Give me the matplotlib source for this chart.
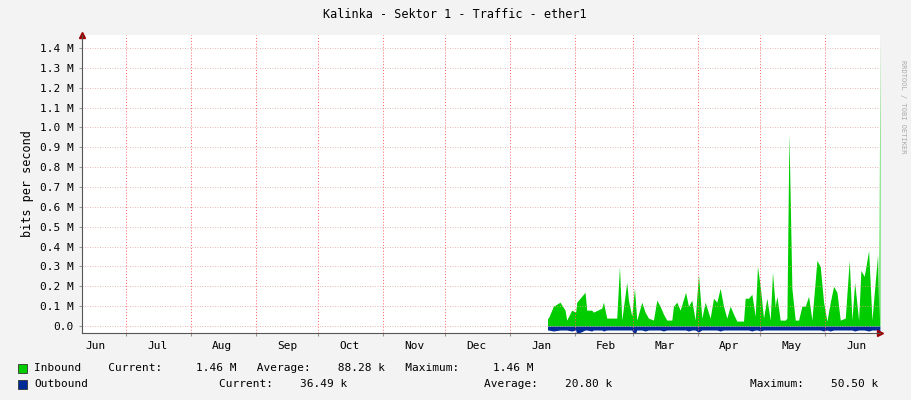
import matplotlib
matplotlib.use("Agg")
import matplotlib.pyplot as plt
import matplotlib.dates as mdates
import numpy as np
import datetime as dt

title = "Kalinka - Sektor 1 - Traffic - ether1"
ylabel = "bits per second"
# days since 2021-01-01
days = [18.0,18.4,20.8,24,26.4,27.2,29.6,31.5,32,36,36.8,39.2,40,44,44.8,46.4,51.2,52.5,53.6,56,56.8,58.4,59.7,60.8,
        63.2,64.8,66.4,68.8,70.4,72,73.6,75.2,77.6,78.4,80,81.6,84.2,85.6,87.2,88.8,90.4,92,93.6,96,97.6,99.2,100.8,
        102.4,104,105.6,107.2,108.8,112,112.8,114.4,116,117.6,118.7,120,121.6,123.2,124.8,125.9,127.2,128,129.6,132,
        132.8,133.8,135.2,136.8,138.4,140,141.6,143.2,144.8,147.2,148.8,150.4,152,153.6,155.2,156.8,158.4,160.8,162.7,
        164,165.3,167.2,168.3,169.9,172,173.6,174.9,176.3,176.9,177.4]
inbound = [0.04,0.04,0.10,0.12,0.08,0.03,0.08,0.07,0.12,0.17,0.08,0.08,0.07,0.09,0.12,0.04,0.04,0.30,0.03,0.22,0.13,
           0.05,0.19,0.03,0.12,0.07,0.04,0.03,0.13,0.10,0.06,0.03,0.03,0.10,0.12,0.08,0.17,0.10,0.13,0.03,0.26,0.04,
           0.12,0.04,0.14,0.12,0.19,0.10,0.04,0.10,0.06,0.025,0.025,0.14,0.14,0.16,0.05,0.30,0.20,0.04,0.14,0.03,0.27,
           0.10,0.15,0.03,0.03,0.04,0.97,0.19,0.03,0.03,0.10,0.10,0.15,0.03,0.33,0.30,0.12,0.025,0.12,0.20,0.17,0.03,
           0.04,0.33,0.03,0.22,0.03,0.28,0.25,0.38,0.03,0.19,0.36,0.03,1.46]
outbound = [0.02,0.02,0.025,0.02,0.02,0.02,0.025,0.02,0.04,0.02,0.02,0.025,0.02,0.02,0.025,0.02,0.02,0.02,0.02,0.02,
            0.02,0.02,0.05,0.02,0.02,0.025,0.02,0.02,0.02,0.02,0.025,0.02,0.02,0.02,0.02,0.02,0.02,0.025,0.02,0.02,
            0.03,0.02,0.02,0.02,0.02,0.02,0.025,0.02,0.02,0.02,0.02,0.02,0.02,0.02,0.02,0.025,0.02,0.02,0.025,0.02,0.02,
            0.02,0.02,0.02,0.02,0.02,0.02,0.02,0.02,0.02,0.02,0.02,0.02,0.02,0.02,0.02,0.02,0.02,0.025,0.02,0.025,0.02,
            0.02,0.02,0.02,0.02,0.02,0.025,0.02,0.02,0.02,0.025,0.02,0.02,0.02,0.03,0.036]
yticks = [0.0,0.1,0.2,0.3,0.4,0.5,0.6,0.7,0.8,0.9,1.0,1.1,1.2,1.3,1.4]
legend_rows = [
    ("#00cc00", [(34, "Inbound    Current:     1.46 M   Average:    88.28 k   Maximum:     1.46 M")]),
    ("#002a97", [(34, "Outbound"), (219, "Current:    36.49 k"), (484, "Average:    20.80 k"), (750, "Maximum:    50.50 k")]),
]

base = dt.datetime(2021, 1, 1)
x = [base + dt.timedelta(days=d) for d in days]
W, H = 911, 400
fig = plt.figure(figsize=(W/100, H/100), dpi=100, facecolor="#f3f3f3")
ax = fig.add_axes([82/W, 1-333/H, (880-82)/W, (333-35)/H], facecolor="white")
mono = dict(family="DejaVu Sans Mono", size=8)

ax.fill_between(x, 0, inbound, color="#00cc00", lw=0)
ax.fill_between(x, 0, [-v for v in outbound], color="#002a97", lw=0)

xmin = base + dt.timedelta(days=(82-510)/2.085)
xmax = base + dt.timedelta(days=(880-510)/2.085)
ax.set_xlim(xmin, xmax)
ax.set_ylim(-0.035, 1.465)
ax.set_yticks(yticks)
ax.set_yticklabels(["0.0"] + ["%.1f M" % v for v in yticks[1:]], **mono)
ax.xaxis.set_major_locator(mdates.MonthLocator())
ax.xaxis.set_major_formatter(plt.NullFormatter())
ax.xaxis.set_minor_locator(mdates.MonthLocator(bymonthday=16))
ax.xaxis.set_minor_formatter(mdates.DateFormatter("%b"))
ax.tick_params(axis="x", which="minor", length=0, pad=6, labelsize=8, labelfontfamily="DejaVu Sans Mono")
ax.tick_params(axis="x", which="major", length=2, color="#999999")
ax.tick_params(axis="y", length=2, color="#999999", pad=4)
ax.grid(True, axis="x", which="major", color="#ff6060", ls=(0, (1, 2)), lw=0.7)
ax.grid(True, axis="y", color="#e0a0a0", ls=(0, (1, 2)), lw=0.6)
for s in ["top", "right"]:
    ax.spines[s].set_visible(False)
ax.spines["left"].set_color("#555555")
ax.spines["bottom"].set_color("#555555")
ax.spines["bottom"].set_position(("data", -0.035))
ax.plot([0], [1], marker="^", color="#a00000", ms=4, transform=ax.transAxes, clip_on=False)
ax.plot([1], [0], marker=">", color="#a00000", ms=4, transform=ax.transAxes, clip_on=False)
ax.set_ylabel(ylabel, fontfamily="DejaVu Sans Mono", fontsize=8.5)

fig.text(455/W, 1-14/H, title, ha="center", va="center", family="DejaVu Sans Mono", size=8.5)
fig.text(903/W, 1-60/H, "RRDTOOL / TOBI OETIKER", rotation=270, ha="center", va="top",
         family="DejaVu Sans Mono", size=5, color="#aaaaaa")
for i, (col, parts) in enumerate(legend_rows):
    y = 1 - (368 + 16*i)/H
    fig.patches.append(plt.Rectangle((18/W, y-5/H), 9/W, 9/H, transform=fig.transFigure,
                                     facecolor=col, edgecolor="#333333", lw=0.6))
    for px, txt in parts:
        fig.text(px/W, y, txt, va="center", ha="left", **mono)
fig.savefig("out.png", dpi=100, facecolor=fig.get_facecolor())
